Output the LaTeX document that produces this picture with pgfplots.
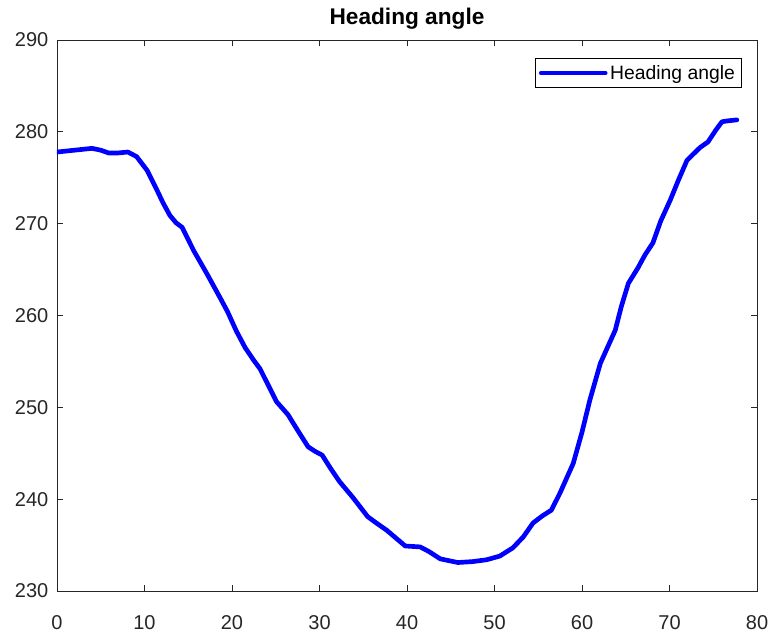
\documentclass[border=0pt]{standalone}
\usepackage{pgfplots}
\pgfplotsset{compat=1.18}
\usepackage{fontspec}
\setmainfont{Liberation Sans}
\definecolor{axgray}{gray}{0.15}
\begin{document}
\begin{tikzpicture}
\begin{axis}[
  scale only axis,
  width=525pt, height=413.25pt,
  xmin=0, xmax=80, ymin=230, ymax=290,
  xtick={0,10,...,80}, ytick={230,240,...,290},
  tick align=inside, tick pos=both,
  major tick length=4.5pt,
  axis line style={axgray, line width=0.6pt},
  every tick/.style={axgray, line width=0.6pt},
  tick label style={font=\fontsize{15}{18}\selectfont, text=axgray},
  /pgf/number format/assume math mode=true,
  /pgf/number format/1000 sep={},
  yticklabel style={xshift=-3pt},
  xticklabel style={inner sep=2pt, yshift=-16pt},
  title={\textbf{Heading angle}},
  title style={font=\fontsize{17}{20}\selectfont, at={(0.5,1)}, anchor=south, inner sep=0pt, yshift=1.5pt},
  legend style={at={(1,1)}, anchor=north east, xshift=-11.25pt, yshift=-13.5pt,
    draw=black, line width=0.6pt, font=\fontsize{14.5}{17}\selectfont, inner sep=3pt,
    legend cell align=left},
  legend image code/.code={\draw[#1, line width=3.5pt] (0pt,0pt) -- (48pt,0pt);},
]
\addplot[color={rgb,255:red,0;green,0;blue,255}, line width=3.5pt, line join=round, line cap=round] coordinates {
(0,277.8) (2,278.0) (4,278.2) (5,278.0) (5.9,277.7) (7,277.7) (8.1,277.8) (9.1,277.3)
(10.3,275.8) (11.4,273.7) (12.1,272.3) (12.9,270.9) (13.6,270.1) (14.3,269.6)
(15.6,267.1) (17.1,264.6) (18.6,262.0) (19.5,260.4) (20.5,258.3) (21.5,256.5)
(22.5,255.1) (23.2,254.2) (24.2,252.3) (25.1,250.6) (26.4,249.2) (27.5,247.5)
(28.7,245.7) (29.5,245.2) (30.3,244.8) (31.3,243.3) (32.3,241.9) (33.8,240.2)
(35.5,238.1) (36.5,237.4) (37.7,236.6) (39.8,234.9) (41.5,234.8) (42.5,234.3)
(43.8,233.5) (45.8,233.1) (47.5,233.2) (49.1,233.4) (50.6,233.8) (52.1,234.7)
(53.3,235.9) (54.4,237.4) (55.5,238.2) (56.5,238.8) (57.5,240.7) (59,243.9)
(60,247.3) (60.9,250.8) (62.1,254.8) (63.8,258.4) (64.5,261.0) (65.3,263.5)
(66.4,265.2) (67.2,266.6) (68.1,267.9) (69,270.3) (70.1,272.6) (71,274.7)
(72,276.9) (73.5,278.3) (74.4,278.9) (75.3,280.2) (76,281.1) (76.7,281.2) (77.7,281.3)
};
\addlegendentry{Heading angle}
\end{axis}
\path ([xshift=-42.75pt,yshift=-30.75pt]current axis.south west) rectangle ([xshift=12.75pt,yshift=30pt]current axis.north east);
\end{tikzpicture}
\end{document}
